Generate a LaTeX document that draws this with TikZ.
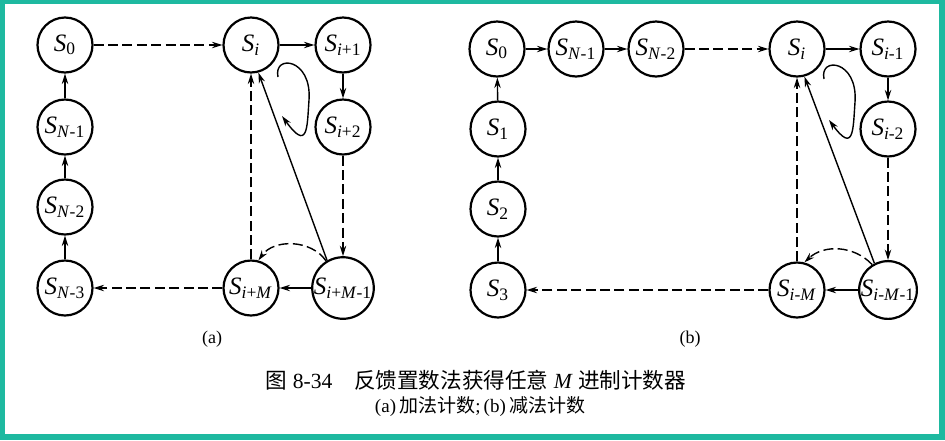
\documentclass[tikz,border=0pt]{standalone}
\usepackage{fontspec}
\setmainfont{Liberation Serif}
\newfontfamily\cjk{Noto Sans CJK SC}
\usetikzlibrary{arrows.meta}
\definecolor{frameteal}{RGB}{30,185,160}
% state label: italic S with a subscript
\newcommand{\stl}[1]{\textit{S}\textsubscript{#1}}
\newcommand{\vi}{\textit{i}}
\newcommand{\vm}{\textit{M}}
\newcommand{\vn}{\textit{N}}

\begin{document}
\begin{tikzpicture}[x=0.5pt,y=-0.5pt,>={Stealth[length=5.2pt,width=3.2pt]},
                    st/.style={circle, draw, line width=1.1pt, minimum size=27.5pt,
                               inner sep=0pt, font=\fontsize{12.5}{14}\selectfont},
                    solidarr/.style={->, line width=0.7pt},
                    dasharr/.style={->, line width=0.7pt, dash pattern=on 5pt off 2.2pt}]

  % frame
  \fill[frameteal] (0,0) rectangle (945,440);
  \fill[white] (5,4) rectangle (939,434);

  % (a) up counting
  \node[st] (a0)   at (65,45)   {\stl{0}};
  \node[st] (ai)   at (251,45)  {\stl{\vi}};
  \node[st] (ai1)  at (343,45)  {\stl{\vi+1}};
  \node[st] (ai2)  at (343,127) {\stl{\vi+2}};
  \node[st] (aim1) at (343,288) {\stl{\vi+\vm-1}};
  \node[st] (aim)  at (251,288) {\stl{\vi+\vm}};
  \node[st] (an3)  at (65,288)  {\stl{\vn-3}};
  \node[st] (an2)  at (65,207)  {\stl{\vn-2}};
  \node[st] (an1)  at (65,127)  {\stl{\vn-1}};

  \draw[dasharr]  (a0) -- (ai);
  \draw[solidarr] (ai) -- (ai1);
  \draw[solidarr] (ai1) -- (ai2);
  \draw[dasharr]  (ai2) -- (aim1);
  \draw[solidarr] (aim1) -- (aim);
  \draw[dasharr]  (aim) -- (an3);
  \draw[solidarr] (an3) -- (an2);
  \draw[solidarr] (an2) -- (an1);
  \draw[solidarr] (an1) -- (a0);
  \draw[dasharr]  (aim) -- (ai);
  \draw[solidarr] (aim1.120) -- (ai.285);
  \draw[dasharr]  (aim1.122) to[bend right=55] (aim.75);
  \draw[solidarr] (278,77) .. controls (273,54) and (312,58) .. (309,100)
                  .. controls (307,128) and (308,152) .. (282,116);

  % (b) down counting
  \node[st] (b0)   at (497,49)  {\stl{0}};
  \node[st] (bn1)  at (576,49)  {\stl{\vn-1}};
  \node[st] (bn2)  at (656,49)  {\stl{\vn-2}};
  \node[st] (bi)   at (797,49)  {\stl{\vi}};
  \node[st] (bi1)  at (888,49)  {\stl{\vi-1}};
  \node[st] (bi2)  at (888,129) {\stl{\vi-2}};
  \node[st] (bim1) at (888,290) {\stl{\vi-\vm-1}};
  \node[st] (bim)  at (797,290) {\stl{\vi-\vm}};
  \node[st] (b3)   at (498,290) {\stl{3}};
  \node[st] (b2)   at (498,209) {\stl{2}};
  \node[st] (b1)   at (498,129) {\stl{1}};

  \draw[solidarr] (b0) -- (bn1);
  \draw[solidarr] (bn1) -- (bn2);
  \draw[dasharr]  (bn2) -- (bi);
  \draw[solidarr] (bi) -- (bi1);
  \draw[solidarr] (bi1) -- (bi2);
  \draw[dasharr]  (bi2) -- (bim1);
  \draw[solidarr] (bim1) -- (bim);
  \draw[dasharr]  (bim) -- (b3);
  \draw[solidarr] (b3) -- (b2);
  \draw[solidarr] (b2) -- (b1);
  \draw[solidarr] (b1) -- (b0);
  \draw[dasharr]  (bim) -- (bi);
  \draw[solidarr] (bim1.117) -- (bi.285);
  \draw[dasharr]  (bim1.122) to[bend right=45] (bim.75);
  \draw[solidarr] (824,79) .. controls (819,56) and (858,60) .. (855,102)
                  .. controls (853,130) and (854,154) .. (829,120);

  % labels and caption
  \node[font=\fontsize{9}{11}\selectfont] (laba) at (212,339) {(a)};
  \node[font=\fontsize{9}{11}\selectfont] (labb) at (690,339) {(b)};
  \node[font=\fontsize{10.8}{13}\selectfont] (title) at (476,380)
        {{\cjk 图} 8-34\quad {\cjk 反馈置数法获得任意} \textit{M} {\cjk 进制计数器}};
  \node[font=\fontsize{9.5}{11}\selectfont] (subt) at (480,407)
        {(a)\,{\cjk 加法计数};\,(b)\,{\cjk 减法计数}};
\end{tikzpicture}
\end{document}
